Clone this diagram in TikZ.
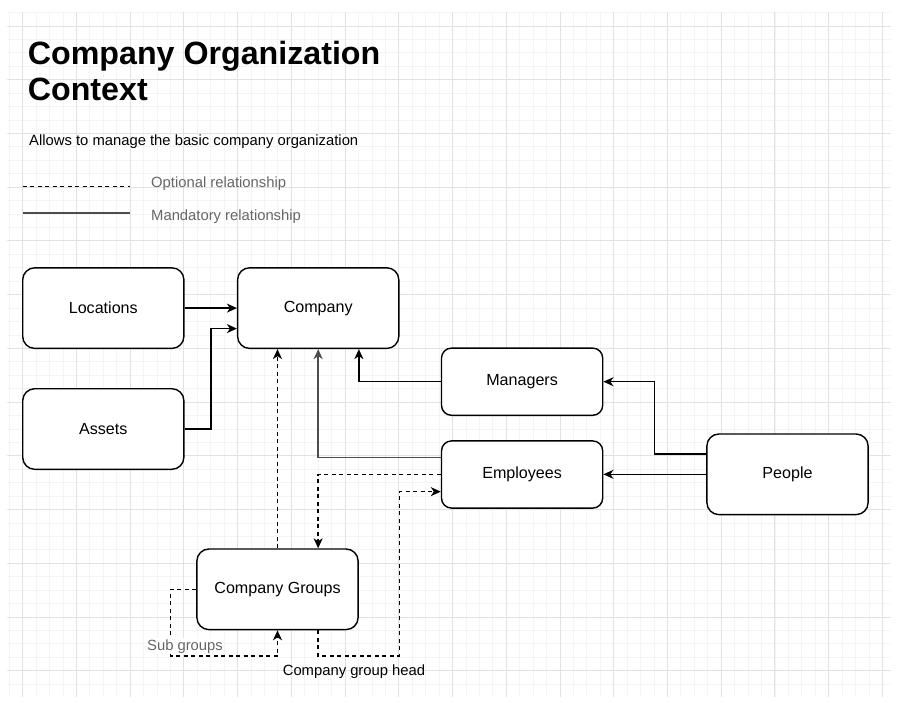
\documentclass[tikz,border=0pt]{standalone}
\usepackage{fontspec}
\setmainfont{Liberation Sans}
\usetikzlibrary{arrows.meta,calc}

\definecolor{minorgrid}{HTML}{F4F4F4}
\definecolor{majorgrid}{HTML}{E2E2E2}
\definecolor{softgray}{HTML}{666666}
\definecolor{linegray}{HTML}{4D4D4D}

\begin{document}
\begin{tikzpicture}[x=1pt,y=-1pt,
  box/.style={draw=black, line width=1.4pt, rounded corners=12pt, fill=white,
    minimum width=161.2pt, minimum height=80.6pt, inner sep=0pt,
    font=\fontsize{16.1}{19}\selectfont},
  shortbox/.style={box, minimum height=67.2pt, rounded corners=10pt},
  link/.style={line width=1.4pt, -{Stealth[length=10pt,width=9pt,inset=3pt]}},
  opt/.style={link, dash pattern=on 4pt off 3.5pt},
  heavy/.style={link, draw=linegray, line width=1.7pt},
  lbl/.style={font=\fontsize{14.8}{17}\selectfont, inner sep=0pt},
  gridminor/.style={draw=minorgrid, line width=0.9pt},
  gridmajor/.style={draw=majorgrid, line width=1pt},
]

% page and background
\fill[white] (0,0) rectangle (915,702);
\useasboundingbox (0,0) rectangle (915,702);

% drawing grid
\begin{scope}
  \clip (7.3,12.3) rectangle (890.7,696);
  \foreach \i in {-2,...,66} {
    \draw[gridminor] (22.7+\i*13.433,0) -- (22.7+\i*13.433,702);
  }
  \foreach \j in {-2,...,53} {
    \draw[gridminor] (0,26+\j*13.433) -- (915,26+\j*13.433);
  }
  \foreach \i in {0,...,16} {
    \draw[gridmajor] (22.7+\i*53.732,0) -- (22.7+\i*53.732,702);
  }
  \foreach \j in {0,...,12} {
    \draw[gridmajor] (0,26+\j*53.732) -- (915,26+\j*53.732);
  }
\end{scope}

% heading
\node[anchor=base west, inner sep=0pt, font=\bfseries\fontsize{32.2}{37}\selectfont]
  (title1) at (27.7,64) {Company Organization};
\node[anchor=base west, inner sep=0pt, font=\bfseries\fontsize{32.2}{37}\selectfont]
  (title2) at (27.7,100.7) {Context};
\node[lbl, anchor=base west] (subtitle) at (29,145.7)
  {Allows to manage the basic company organization};

% legend
\coordinate (optA) at (22.7,186.7);
\coordinate (optB) at (130,186.7);
\coordinate (manA) at (22.7,213.3);
\coordinate (manB) at (130,213.3);
\draw[line width=1.4pt, dash pattern=on 4pt off 3.5pt] (optA) -- (optB);
\draw[draw=linegray, line width=1.7pt] (manA) -- (manB);
\node[lbl, anchor=base west, text=softgray] (optlbl) at (151,187) {Optional relationship};
\node[lbl, anchor=base west, text=softgray] (manlbl) at (151,220) {Mandatory relationship};

% entities
\node[box] (loc) at (103.3,308.1) {Locations};
\node[box] (comp) at (318.2,308.1) {Company};
\node[box] (assets) at (103.3,429.0) {Assets};
\node[shortbox] (mgr) at (522.1,381.7) {Managers};
\node[shortbox] (emp) at (522.1,474.5) {Employees};
\node[box] (ppl) at (787.5,474.3) {People};
\node[box] (grp) at (277.5,589.3) {Company Groups};

% mandatory relationships
\draw[link] (loc.east) -- (loc.east -| comp.west);
\draw[link] (assets.east) -- ++(26.5,0) |- ($(comp.north west)!0.75!(comp.south west)$);
\draw[link] (mgr.west) -| ($(comp.south west)!0.75!(comp.south east)$);
\draw[heavy] ($(emp.north west)!0.25!(emp.south west)$) -| (comp.south);
\draw[link] ($(ppl.north west)!0.25!(ppl.south west)$) -- ++(-52,0) |- (mgr.east);
\draw[link] (ppl.west) -- (ppl.west -| emp.east);

% optional relationships
\draw[opt] (grp.north) -- (grp.north |- comp.south);
\draw[opt] (emp.west) -| ($(grp.north west)!0.75!(grp.north east)$);
\coordinate (headturn) at (399.3,656);
\draw[opt] ($(grp.south west)!0.75!(grp.south east)$) |- (headturn)
  |- ($(emp.north west)!0.75!(emp.south west)$);
\coordinate (subturn) at (170.7,656);
\draw[opt] (grp.west) -| (subturn) -| (grp.south);

% relationship labels
\node[lbl, anchor=base, text=softgray, fill=white, inner sep=1.2pt] (sublbl) at (185,650) {Sub groups};
\node[lbl, anchor=base] (headlbl) at (354,675) {Company group head};

\end{tikzpicture}
\end{document}
